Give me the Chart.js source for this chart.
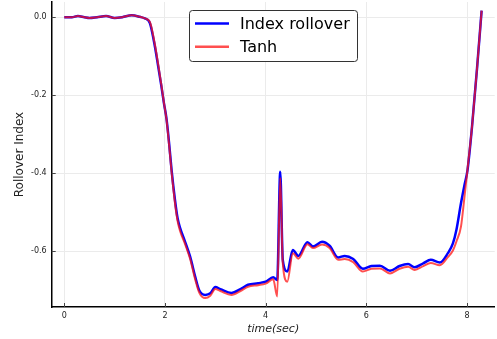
<!DOCTYPE html>
<html>
<head>
<meta charset="utf-8">
<script src="https://cdn.jsdelivr.net/npm/chart.js@4"></script>
<style>
  html, body { margin: 0; padding: 0; background: #fff; }
  #wrap { width: 497px; height: 339px; }
</style>
</head>
<body>
<div id="wrap"><canvas id="rollover"></canvas></div>
<script>
// values
const seriesNames = ['Index rollover', 'Tanh'];
const time = [0, 0.15, 0.27, 0.4, 0.5, 0.65, 0.83, 1.0, 1.15, 1.34, 1.5, 1.6, 1.7, 1.8, 1.87, 1.93, 1.98, 2.03, 2.08, 2.13, 2.2, 2.25, 2.3, 2.4, 2.5, 2.6, 2.68, 2.8, 2.9, 3.0, 3.1, 3.32, 3.5, 3.65, 3.85, 4.0, 4.15, 4.23, 4.29, 4.34, 4.43, 4.54, 4.65, 4.83, 4.94, 5.12, 5.27, 5.44, 5.57, 5.74, 5.93, 6.1, 6.27, 6.47, 6.66, 6.83, 6.96, 7.13, 7.28, 7.46, 7.62, 7.72, 7.79, 7.88, 7.95, 8.01, 8.1, 8.2, 8.29];
const indexRollover = [0, 0, 0.003, 0, -0.002, 0, 0.003, -0.002, 0, 0.005, 0.001, -0.003, -0.015, -0.075, -0.13, -0.178, -0.221, -0.26, -0.32, -0.39, -0.47, -0.515, -0.54, -0.576, -0.614, -0.665, -0.7, -0.712, -0.708, -0.692, -0.697, -0.707, -0.697, -0.686, -0.682, -0.678, -0.667, -0.674, -0.396, -0.622, -0.652, -0.597, -0.612, -0.577, -0.588, -0.576, -0.586, -0.616, -0.612, -0.62, -0.645, -0.638, -0.637, -0.65, -0.638, -0.633, -0.641, -0.631, -0.622, -0.629, -0.605, -0.58, -0.545, -0.477, -0.43, -0.392, -0.28, -0.13, 0.017];
const tanhFit = [0, 0, 0.003, 0, -0.002, 0, 0.003, -0.002, 0, 0.005, 0.001, -0.003, -0.012, -0.07, -0.125, -0.175, -0.22, -0.262, -0.325, -0.395, -0.478, -0.522, -0.548, -0.582, -0.62, -0.672, -0.706, -0.72, -0.714, -0.697, -0.702, -0.712, -0.702, -0.691, -0.687, -0.683, -0.672, -0.716, -0.412, -0.63, -0.678, -0.605, -0.619, -0.582, -0.592, -0.583, -0.592, -0.622, -0.62, -0.628, -0.652, -0.645, -0.644, -0.657, -0.645, -0.64, -0.648, -0.638, -0.63, -0.636, -0.615, -0.598, -0.575, -0.537, -0.46, -0.39, -0.28, -0.13, 0.017];
const xTicks = [0, 2, 4, 6, 8];
const yTicks = [0, -0.2, -0.4, -0.6];

const el = document.getElementById('rollover');

// legend box drawn inside the plot, like the original
const innerLegend = {
  id: 'innerLegend',
  afterDraw(chart) {
    const ctx = chart.ctx;
    const cols = chart.data.datasets.map(d => d.borderColor);
    ctx.save();
    ctx.beginPath();
    ctx.roundRect(189.5, 10.5, 168, 51, 3);
    ctx.fillStyle = '#fff';
    ctx.fill();
    ctx.strokeStyle = '#333';
    ctx.lineWidth = 1;
    ctx.stroke();
    ctx.font = '16px "DejaVu Sans"';
    ctx.textBaseline = 'middle';
    seriesNames.forEach((name, i) => {
      const y = 23.5 + i * 23.3;
      ctx.beginPath();
      ctx.moveTo(195, y);
      ctx.lineTo(229, y);
      ctx.strokeStyle = cols[i];
      ctx.lineWidth = 2.5;
      ctx.stroke();
      ctx.fillStyle = '#000';
      ctx.fillText(name, 240, y + 1);
    });
    ctx.restore();
  },
};

// small inward tick marks on the axes
const innerTicks = {
  id: 'innerTicks',
  afterDatasetsDraw(chart) {
    const { ctx, chartArea, scales } = chart;
    ctx.save();
    ctx.strokeStyle = '#444';
    ctx.lineWidth = 1;
    ctx.beginPath();
    xTicks.forEach(v => {
      const x = Math.round(scales.x.getPixelForValue(v)) + 0.5;
      ctx.moveTo(x, chartArea.bottom);
      ctx.lineTo(x, chartArea.bottom - 4);
    });
    yTicks.forEach(v => {
      const y = Math.round(scales.y.getPixelForValue(v)) + 0.5;
      ctx.moveTo(chartArea.left, y);
      ctx.lineTo(chartArea.left + 4, y);
    });
    ctx.stroke();
    ctx.restore();
  },
};

new Chart(el, {
  type: 'line',
  data: {
    labels: time,
    datasets: [
      {
        label: seriesNames[0],
        data: indexRollover,
        borderColor: 'rgb(0,0,255)',
        borderWidth: 2.5,
        pointRadius: 0,
        cubicInterpolationMode: 'monotone',
        order: 2,
      },
      {
        label: seriesNames[1],
        data: tanhFit,
        borderColor: 'rgba(255,20,20,0.75)',
        borderWidth: 2,
        pointRadius: 0,
        cubicInterpolationMode: 'monotone',
        order: 1,
      },
    ],
  },
  options: {
    responsive: true,
    maintainAspectRatio: false,
    animation: false,
    layout: { padding: { top: 2, right: 2.3, left: 0, bottom: 0 } },
    plugins: {
      legend: { display: false },
      tooltip: { enabled: false },
    },
    scales: {
      x: {
        type: 'linear',
        min: -0.25,
        max: 8.55,
        afterBuildTicks: (s) => { s.ticks = xTicks.map(v => ({ value: v })); },
        afterFit: (s) => { s.height = 32; s.paddingLeft = 0; s.paddingRight = 0; },
        grid: { color: '#ebebeb', drawTicks: false },
        border: { color: '#000', width: 1.5 },
        ticks: {
          padding: 4,
          color: '#222',
          font: { family: 'DejaVu Sans', size: 8 },
          callback: (v) => String(v),
        },
        title: {
          display: true,
          text: 'time(sec)',
          color: '#222',
          font: { family: 'DejaVu Sans', size: 11, style: 'italic' },
          padding: { top: 0, bottom: 3 },
        },
      },
      y: {
        min: -0.743,
        max: 0.039,
        afterBuildTicks: (s) => { s.ticks = yTicks.map(v => ({ value: v })); },
        afterFit: (s) => { s.width = 51.7; s.paddingTop = 0; s.paddingBottom = 0; },
        grid: { color: '#ebebeb', drawTicks: false },
        border: { color: '#000', width: 1.5 },
        ticks: {
          padding: 5,
          color: '#222',
          font: { family: 'DejaVu Sans', size: 8 },
          callback: (v) => v.toFixed(1),
        },
        title: {
          display: true,
          text: 'Rollover Index',
          color: '#222',
          font: { family: 'DejaVu Sans', size: 12 },
          padding: { top: 13, bottom: 0 },
        },
      },
    },
  },
  plugins: [innerLegend, innerTicks],
});
</script>
</body>
</html>
